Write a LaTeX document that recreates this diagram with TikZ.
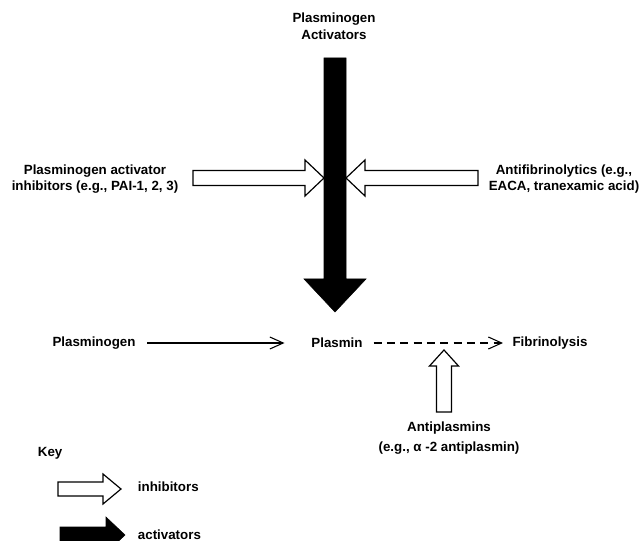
\documentclass[tikz,border=0pt]{standalone}
\usepackage{fontspec}
\setmainfont{Liberation Sans}
\usetikzlibrary{arrows.meta,positioning,calc}
\newcommand{\fatarrow}[7]{%
    \draw[#1, shift={(#2)}, rotate=#3] (0,-#5) -- (#4-#7,-#5) -- (#4-#7,-#6) -- (#4,0) -- (#4-#7,#6) -- (#4-#7,#5) -- (0,#5) -- cycle;}

\begin{document}
\begin{tikzpicture}[x=0.75pt, y=-0.75pt, font=\bfseries\fontsize{10}{12.5}\selectfont,
    txt/.style={align=center, inner sep=2pt},
    inhib/.style={draw=black, fill=white, line width=0.9pt, line join=miter},
    activ/.style={draw=black, fill=black, line join=miter},
    thin arrow/.style={line width=0.8pt, -{Straight Barb[length=10pt, width=9pt]}}]
    \useasboundingbox (0,0) rectangle (642,541);
    \node (act) [txt] at (334,26) {Plasminogen\\Activators};
    \node (pai) [txt] at (95,179) {Plasminogen activator\\inhibitors (e.g., PAI-1, 2, 3)};
    \node (antifib) [txt] at (564,179) {Antifibrinolytics (e.g.,\\EACA, tranexamic acid)};
    \node (plg) [txt] at (94,343) {Plasminogen};
    \node (plm) [txt] at (337,343) {Plasmin};
    \node (fib) [txt] at (550,343) {Fibrinolysis};
    \node (ap) [txt] at (449,438) {Antiplasmins\\[2pt](e.g., α -2 antiplasmin)};
    \node (key) [txt, anchor=west] at (35,453) {Key};
    \node (kinh) [txt, anchor=west] at (135,487) {inhibitors};
    \node (kact) [txt, anchor=west] at (135,535) {activators};
    \coordinate (barstart) at (335,58);
    \coordinate (paistart) at (193,178);
    \coordinate (afstart) at (478,178);
    \coordinate (apstart) at (444,412);
    \coordinate (kinhstart) at (58,489);
    \coordinate (kactstart) at (60,535);
    \fatarrow{activ}{barstart}{-90}{254}{11}{31}{33}
    \fatarrow{inhib}{paistart}{0}{131}{7.5}{18}{19}
    \fatarrow{inhib}{afstart}{180}{132}{7.5}{18}{19}
    \fatarrow{inhib}{apstart}{90}{62}{7.5}{14.5}{16}
    \fatarrow{inhib}{kinhstart}{0}{63}{7}{15}{18}
    \fatarrow{activ}{kactstart}{0}{65}{8}{18}{19}
    \draw [thin arrow, shorten <=6.5pt, shorten >=18pt] (plg) -- (plm);
    \draw [thin arrow, dash pattern=on 6pt off 4pt, shorten <=6pt, shorten >=5pt] (plm) -- (fib);
\end{tikzpicture}
\end{document}
